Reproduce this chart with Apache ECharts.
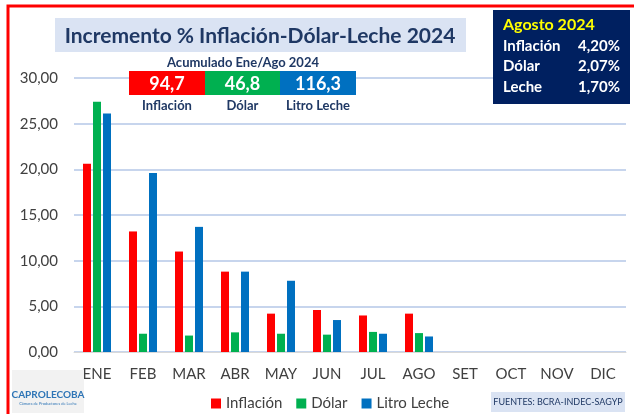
<!DOCTYPE html>
<html>
<head>
<meta charset="utf-8">
<script src="https://cdn.jsdelivr.net/npm/echarts@6/dist/echarts.min.js"></script>
<style>
  html, body { margin: 0; padding: 0; background: #fff; }
  #chart { width: 634px; height: 414px; }
</style>
</head>
<body>
<div id="chart"></div>
<script>
// datos mensuales (% de incremento)
const meses = ["ENE", "FEB", "MAR", "ABR", "MAY", "JUN", "JUL", "AGO", "SET", "OCT", "NOV", "DIC"];
const inflacion = [20.6, 13.2, 11.0, 8.8, 4.2, 4.6, 4.0, 4.2];
const dolar = [27.4, 2.0, 1.8, 2.15, 2.0, 1.9, 2.2, 2.07];
const leche = [26.1, 19.6, 13.7, 8.8, 7.8, 3.5, 2.0, 1.7];

// acumulado ene/ago
const acumLabels = ["Inflación", "Dólar", "Litro Leche"];
const acumValores = ["94,7", "46,8", "116,3"];

// recuadro agosto
const agostoLabels = ["Inflación", "Dólar", "Leche"];
const agostoValores = ["4,20%", "2,07%", "1,70%"];

const FONT = "Lato, 'Open Sans', sans-serif";
const NAVY = "#1f3864";
const colors = ["#ff0000", "#00b050", "#0070c0"];

const chart = echarts.init(document.getElementById("chart"));

const graphics = [];
// borde rojo
graphics.push({
  type: "rect", z: 100,
  shape: { x: 8, y: 6, width: 640, height: 420 },
  style: { fill: null, stroke: "#ff0000", lineWidth: 3 }
});
// titulo
graphics.push({
  type: "rect", z: 10,
  shape: { x: 55, y: 18, width: 411, height: 34 },
  style: { fill: "#dae3f3" }
});
graphics.push({
  type: "text", z: 11,
  style: {
    text: "Incremento % Inflación-Dólar-Leche 2024", x: 260, y: 36,
    textAlign: "center", textVerticalAlign: "middle",
    font: "bold 21px " + FONT, fill: NAVY
  }
});
// acumulado
graphics.push({
  type: "text", z: 11,
  style: {
    text: "Acumulado Ene/Ago 2024", x: 243, y: 63,
    textAlign: "center", textVerticalAlign: "middle",
    font: "bold 13px " + FONT, fill: NAVY
  }
});
const boxX = [129, 205, 280];
const boxW = [76, 75, 76];
acumValores.forEach((v, i) => {
  graphics.push({
    type: "rect", z: 10,
    shape: { x: boxX[i], y: 71, width: boxW[i], height: 24 },
    style: { fill: colors[i] }
  });
  graphics.push({
    type: "text", z: 11,
    style: {
      text: v, x: boxX[i] + boxW[i] / 2, y: 84,
      textAlign: "center", textVerticalAlign: "middle",
      font: "bold 18px " + FONT, fill: "#fff"
    }
  });
  graphics.push({
    type: "text", z: 11,
    style: {
      text: acumLabels[i], x: boxX[i] + boxW[i] / 2, y: 106,
      textAlign: "center", textVerticalAlign: "middle",
      font: "bold 13px " + FONT, fill: NAVY
    }
  });
});
// recuadro agosto
graphics.push({
  type: "rect", z: 10,
  shape: { x: 493, y: 10, width: 137, height: 94 },
  style: { fill: "#002060" }
});
graphics.push({
  type: "text", z: 11,
  style: {
    text: "Agosto 2024", x: 503, y: 25, textVerticalAlign: "middle",
    font: "bold 16px " + FONT, fill: "#ffff00"
  }
});
agostoLabels.forEach((l, i) => {
  graphics.push({
    type: "text", z: 11,
    style: {
      text: l, x: 503, y: 46 + i * 20.5, textVerticalAlign: "middle",
      font: "bold 15px " + FONT, fill: "#fff"
    }
  });
  graphics.push({
    type: "text", z: 11,
    style: {
      text: agostoValores[i], x: 620, y: 46 + i * 20.5,
      textAlign: "right", textVerticalAlign: "middle",
      font: "bold 15px " + FONT, fill: "#fff"
    }
  });
});
// fuentes
graphics.push({
  type: "rect", z: 10,
  shape: { x: 491, y: 392, width: 134, height: 20 },
  style: { fill: "#dae3f3" }
});
graphics.push({
  type: "text", z: 11,
  style: {
    text: "FUENTES: BCRA-INDEC-SAGYP", x: 558, y: 402,
    textAlign: "center", textVerticalAlign: "middle",
    font: "9px " + FONT, fill: NAVY
  }
});
// logo
graphics.push({
  type: "rect", z: 10,
  shape: { x: 12, y: 370, width: 72, height: 43 },
  style: { fill: "#f2f2f2" }
});
graphics.push({
  type: "text", z: 11,
  style: {
    text: "CAPROLECOBA", x: 48, y: 395,
    textAlign: "center", textVerticalAlign: "middle",
    font: "bold 10px " + FONT, fill: "#2e75b6"
  }
});
graphics.push({
  type: "text", z: 11,
  style: {
    text: "Cámara de Productores de Leche", x: 48, y: 404,
    textAlign: "center", textVerticalAlign: "middle",
    font: "4px " + FONT, fill: "#2e75b6"
  }
});

const option = {
  animation: false,
  color: colors,
  textStyle: { fontFamily: FONT },
  grid: { left: 74, right: 8, top: 78, bottom: 62 },
  legend: {
    left: 206, top: 391,
    icon: "rect", itemWidth: 10, itemHeight: 10, itemGap: 14,
    textStyle: { fontSize: 15, color: "#404040", fontFamily: FONT },
    data: ["Inflación", "Dólar", "Litro Leche"]
  },
  xAxis: {
    type: "category",
    data: meses,
    axisTick: { show: false },
    axisLine: { lineStyle: { color: "#d9d9d9" } },
    axisLabel: { fontSize: 15, color: "#404040", margin: 15 }
  },
  yAxis: {
    type: "value",
    min: 0, max: 30, interval: 5,
    axisLabel: {
      fontSize: 15, color: "#404040", margin: 16,
      formatter: v => v.toFixed(2).replace(".", ",")
    },
    splitLine: { lineStyle: { color: "#b4c7e7", width: 1.5 } }
  },
  series: [
    { name: "Inflación", type: "bar", data: inflacion, barWidth: 8, barGap: "25%" },
    { name: "Dólar", type: "bar", data: dolar, barWidth: 8, barGap: "25%" },
    { name: "Litro Leche", type: "bar", data: leche, barWidth: 8, barGap: "25%" }
  ],
  graphic: graphics
};
chart.setOption(option);
</script>
</body>
</html>
